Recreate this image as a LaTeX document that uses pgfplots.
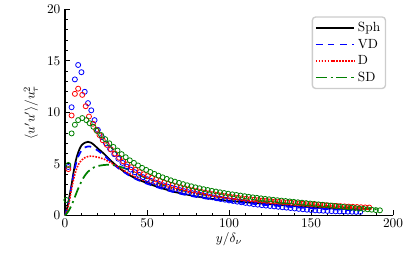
\documentclass[border=0pt]{standalone}
\usepackage{pgfplots}
\pgfplotsset{compat=1.18}
\definecolor{cblue}{RGB}{0,0,255}
\definecolor{cred}{RGB}{255,0,0}
\definecolor{cgreen}{RGB}{0,128,0}
\begin{document}
\begin{tikzpicture}
\useasboundingbox (-48.9pt,-36.7pt) rectangle (257.1pt,162pt);
\begin{axis}[
  at={(0pt,0pt)}, anchor=south west,
  scale only axis, width=246.6pt, height=155pt,
  xmin=0, xmax=200, ymin=0, ymax=20,
  axis lines=left, axis line style={-, line width=0.9pt},
  xtick={0,50,100,150,200}, ytick={0,5,10,15,20},
  minor x tick num=4, minor y tick num=4,
  tick align=inside, tick style={line width=0.7pt, black},
  major tick length=4pt, minor tick length=2pt,
  xticklabel style={yshift=1pt},
  xlabel={$y/\delta_\nu$}, ylabel={$\langle u'u'\rangle/u_\tau^2$},
  xlabel style={yshift=3pt},
  clip=false,
  legend cell align=left,
  legend style={at={(rel axis cs:0.979,0.966)}, anchor=north east, draw=black!20, line width=1pt, rounded corners=2.5pt, font=\normalsize, inner sep=2pt, row sep=0pt},
  legend image code/.code={\draw[#1] plot coordinates {(0pt,0pt) (29pt,0pt)};},
]
% circles
\addplot[only marks, mark=o, mark size=1.9pt, mark options={line width=0.6pt}, cblue, forget plot] coordinates {
(2,4.7)(4,10.5)(6,13.2)(8,14.6)(10,13.9)(12,12.0)(14,10.9)(16,10.2)(18,9.25)
(20,8.3)(22.5,7.6)(25,7.0)(27.5,6.45)(30,5.95)(32.5,5.5)(35,5.1)(37.5,4.75)(40,4.45)(42.5,4.2)
(45,3.95)(47.5,3.72)(50,3.52)(52.5,3.35)(55,3.2)(57.5,3.05)(60,2.92)(62.5,2.8)(65,2.68)(67.5,2.57)
(70,2.46)(72.5,2.36)(75,2.26)(77.5,2.17)(80,2.08)(82.5,2.0)(85,1.92)(87.5,1.84)(90,1.76)(92.5,1.68)
(95,1.6)(97.5,1.53)(100,1.46)(102.5,1.4)(105,1.34)(107.5,1.28)(110,1.22)(112.5,1.16)(115,1.1)(117.5,1.05)
(120,1.0)(122.5,0.96)(125,0.92)(127.5,0.88)(130,0.84)(132.5,0.8)(135,0.76)(137.5,0.72)(140,0.68)(142.5,0.64)
(145,0.6)(147.5,0.56)(150,0.53)(152.5,0.5)(155,0.48)(157.5,0.46)(160,0.44)(162.5,0.42)(165,0.4)(167.5,0.39)
(170,0.38)(172.5,0.37)(175,0.36)(177.5,0.35)(180,0.35)};
\addplot[only marks, mark=o, mark size=1.9pt, mark options={line width=0.6pt}, cred, forget plot] coordinates {
(2,4.5)(4,9.7)(6,11.8)(8,12.3)(10.5,11.7)(12.6,10.6)(14.6,9.6)(17,8.9)(19,8.3)
(21,7.8)(23,7.3)(25.5,6.85)(28,6.4)(30.5,6.0)(33,5.6)(35.5,5.25)(38,4.95)(40.5,4.68)(43,4.42)
(45.5,4.2)(48,4.0)(50.5,3.82)(53,3.65)(55.5,3.5)(58,3.35)(60.5,3.2)(63,3.07)(65.5,2.95)(68,2.84)
(70.5,2.74)(73,2.64)(75.5,2.55)(78,2.46)(80.5,2.38)(83,2.3)(85.5,2.22)(88,2.15)(90.5,2.08)(93,2.01)
(95.5,1.95)(98,1.89)(100.5,1.83)(103,1.77)(105.5,1.72)(108,1.67)(110.5,1.62)(113,1.58)(115.5,1.54)(118,1.5)
(120.5,1.46)(123,1.42)(125.5,1.39)(128,1.36)(130.5,1.33)(133,1.3)(135.5,1.27)(138,1.24)(140.5,1.21)(143,1.18)
(145.5,1.15)(148,1.12)(150.5,1.09)(153,1.06)(155.5,1.03)(158,1.0)(160.5,0.97)(163,0.95)(165.5,0.93)(168,0.9)
(170.5,0.88)(173,0.86)(175.5,0.84)(178,0.82)(180.5,0.8)(183,0.78)(185.5,0.77)};
\addplot[only marks, mark=o, mark size=1.9pt, mark options={line width=0.6pt}, cgreen, forget plot] coordinates {
(0.8,1.5)(2,4.9)(4,7.96)(6,8.8)(8,9.25)(10.5,9.45)(13,9.25)(15,8.95)(17.3,8.6)(19.5,8.2)
(22,7.8)(24.5,7.4)(27,7.0)(29.5,6.65)(32,6.3)(34.5,5.95)(37,5.65)(39.5,5.35)(42,5.1)(44.5,4.85)
(47,4.62)(49.5,4.42)(52,4.22)(54.5,4.03)(57,3.86)(59.5,3.7)(62,3.55)(64.5,3.41)(67,3.28)(69.5,3.16)
(72,3.04)(74.5,2.93)(77,2.83)(79.5,2.73)(82,2.64)(84.5,2.55)(87,2.47)(89.5,2.39)(92,2.32)(94.5,2.25)
(97,2.18)(99.5,2.11)(102,2.05)(104.5,1.99)(107,1.93)(109.5,1.87)(112,1.81)(114.5,1.76)(117,1.71)(119.5,1.66)
(122,1.61)(124.5,1.57)(127,1.52)(129.5,1.48)(132,1.44)(134.5,1.4)(137,1.36)(139.5,1.32)(142,1.28)(144.5,1.24)
(147,1.2)(149.5,1.16)(152,1.12)(154.5,1.08)(157,1.04)(159.5,1.0)(162,0.96)(164.5,0.92)(167,0.88)(169.5,0.84)
(172,0.8)(174.5,0.76)(177,0.72)(179.5,0.68)(182,0.64)(184.5,0.6)(187,0.56)(189.5,0.52)(192,0.5)};
% lines
\addplot[black, line width=1.3pt, smooth] coordinates {
(0,0)(1,0.5)(2,1.3)(3,2.1)(4,3.0)(5,4.0)(6,4.9)(7,5.6)(8,6.1)(9,6.5)(10,6.8)(12,7.05)(14,7.15)(16,7.05)(18,6.8)
(20,6.5)(24,5.95)(28,5.3)(32,4.75)(36,4.25)(40,3.85)(45,3.45)(50,3.15)(55,2.85)(60,2.6)(65,2.35)(70,2.17)
(80,1.85)(90,1.6)(100,1.42)(110,1.28)(120,1.15)(130,1.02)(140,0.9)(150,0.8)(160,0.72)(170,0.64)(180,0.58)};
\addlegendentry{Sph}
\addplot[cblue, line width=1.3pt, dash pattern=on 5pt off 4pt, smooth] coordinates {
(0,0)(2,1.2)(4,2.9)(6,4.6)(8,5.7)(10,6.3)(12,6.6)(15,6.7)(18,6.5)(20,6.3)(24,5.8)(28,5.2)(32,4.65)(36,4.2)
(40,3.8)(45,3.4)(50,3.08)(60,2.55)(70,2.12)(80,1.8)(90,1.55)(100,1.35)(110,1.2)(120,1.05)(130,0.93)
(140,0.8)(150,0.7)(160,0.62)(170,0.55)(180,0.5)};
\addlegendentry{VD}
\addplot[cred, line width=1.2pt, dash pattern=on 1.2pt off 1pt, smooth] coordinates {
(0,0)(2,0.9)(4,2.6)(6,4.0)(8,4.9)(10,5.35)(12,5.6)(14,5.72)(16,5.76)(18,5.72)(20,5.65)(24,5.45)(28,5.1)
(32,4.75)(36,4.35)(40,4.0)(45,3.6)(50,3.3)(60,2.8)(70,2.4)(80,2.1)(90,1.85)(100,1.65)(110,1.5)(120,1.38)
(130,1.25)(140,1.13)(150,1.02)(160,0.93)(170,0.85)(180,0.78)(185,0.75)};
\addlegendentry{D}
\addplot[cgreen, line width=1.3pt, dash pattern=on 8pt off 3pt on 1.5pt off 3pt, smooth] coordinates {
(0,0)(2,0.4)(4,1.0)(6,1.8)(8,2.6)(10,3.3)(12,3.85)(14,4.25)(16,4.5)(18,4.7)(20,4.8)(24,4.9)(28,4.92)
(32,4.8)(36,4.6)(40,4.35)(45,3.95)(50,3.6)(60,2.95)(70,2.5)(80,2.15)(90,1.88)(100,1.65)(110,1.45)
(120,1.3)(130,1.15)(140,1.03)(150,0.93)(160,0.83)(170,0.74)(180,0.66)(190,0.6)};
\addlegendentry{SD}
\end{axis}
\end{tikzpicture}
\end{document}
